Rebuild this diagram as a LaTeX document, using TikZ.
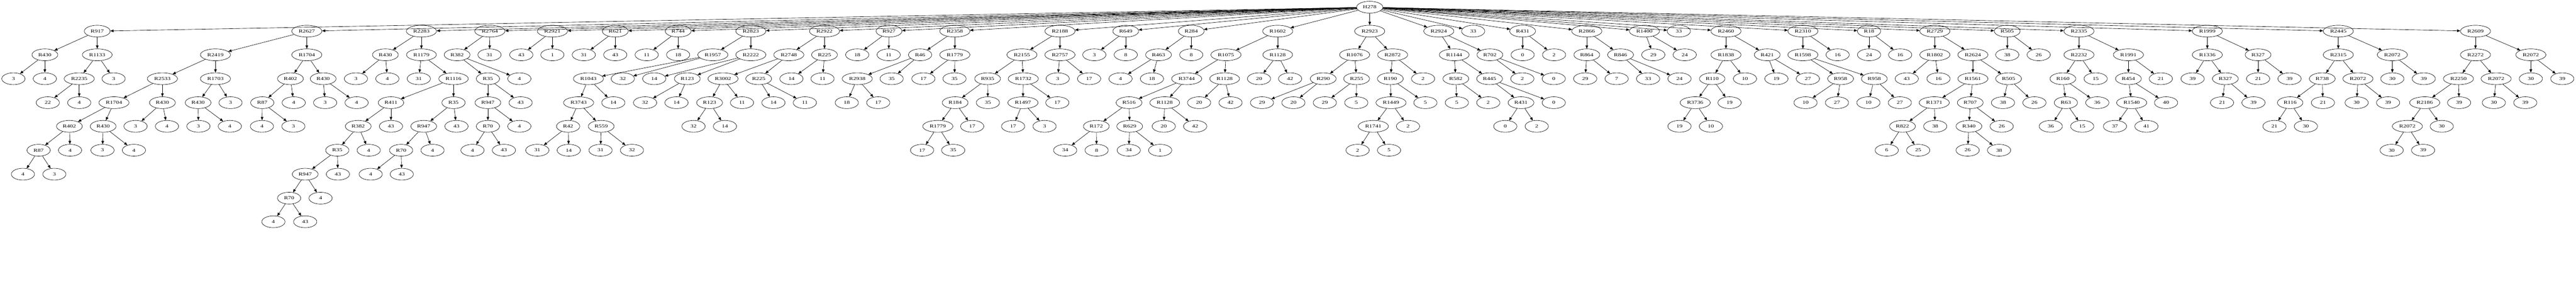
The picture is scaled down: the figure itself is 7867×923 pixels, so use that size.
\documentclass[tikz,border=0pt]{standalone}
\usepackage{fontspec}
\setmainfont{Liberation Serif}[FakeStretch=1.33]
\usepackage{tikz}
\usetikzlibrary{arrows.meta,shapes.geometric}
\tikzset{%
	rnode/.style = {draw, ellipse, line width=1pt, minimum width=71pt, minimum height=36pt, inner xsep=7.7pt, inner ysep=2pt, font=\fontsize{14}{17}\selectfont}, % rule
	leaf/.style  = {rnode}, % value
	arrow/.style = {line width=1pt, -{Triangle[length=10pt,width=8pt]}},
}

\begin{document}
\begin{tikzpicture}[x=1pt, y=-1pt]
	\useasboundingbox (0,0) rectangle (7867,923);
	\node[rnode] (h278) at (4183,22) {H278};

	% R917
	\node[rnode] (a) at (297,95) {R917};
	\node[rnode] (a1) at (137,167) {R430};
	\node[leaf] (a11) at (41,240) {3};
	\node[leaf] (a12) at (137,240) {4};
	\node[rnode] (a2) at (297,167) {R1133};
	\node[rnode] (a21) at (242,240) {R2235};
	\node[leaf] (a211) at (146,313) {22};
	\node[leaf] (a212) at (242,313) {4};
	\node[leaf] (a22) at (347,240) {3};
	\draw[arrow] (a) edge (a1) edge (a2);
	\draw[arrow] (a1) edge (a11) edge (a12);
	\draw[arrow] (a2) edge (a21) edge (a22);
	\draw[arrow] (a21) edge (a211) edge (a212);

	% R2627
	\node[rnode] (b) at (937,95) {R2627};
	\node[rnode] (b1) at (658,167) {R2419};
	\node[rnode] (b11) at (496,240) {R2533};
	\node[rnode] (b111) at (348,313) {R1704};
	\node[rnode] (b1111) at (212,385) {R402};
	\node[rnode] (b11111) at (118,458) {R87};
	\node[leaf] (b111111) at (70,531) {4};
	\node[leaf] (b111112) at (166,531) {3};
	\node[leaf] (b11112) at (214,458) {4};
	\node[rnode] (b1112) at (315,385) {R430};
	\node[leaf] (b11121) at (313,458) {3};
	\node[leaf] (b11122) at (409,458) {4};
	\node[rnode] (b112) at (496,313) {R430};
	\node[leaf] (b1121) at (414,385) {3};
	\node[leaf] (b1122) at (510,385) {4};
	\node[rnode] (b12) at (658,240) {R1703};
	\node[rnode] (b121) at (605,313) {R430};
	\node[leaf] (b1211) at (606,385) {3};
	\node[leaf] (b1212) at (702,385) {4};
	\node[leaf] (b122) at (704,313) {3};
	\node[rnode] (b2) at (937,167) {R1704};
	\node[rnode] (b21) at (887,240) {R402};
	\node[rnode] (b211) at (801,313) {R87};
	\node[leaf] (b2111) at (800,385) {4};
	\node[leaf] (b2112) at (896,385) {3};
	\node[leaf] (b212) at (897,313) {4};
	\node[rnode] (b22) at (987,240) {R430};
	\node[leaf] (b221) at (993,313) {3};
	\node[leaf] (b222) at (1089,313) {4};
	\draw[arrow] (b) edge (b1) edge (b2);
	\draw[arrow] (b1) edge (b11) edge (b12);
	\draw[arrow] (b11) edge (b111) edge (b112);
	\draw[arrow] (b111) edge (b1111) edge (b1112);
	\draw[arrow] (b1111) edge (b11111) edge (b11112);
	\draw[arrow] (b11111) edge (b111111) edge (b111112);
	\draw[arrow] (b1112) edge (b11121) edge (b11122);
	\draw[arrow] (b112) edge (b1121) edge (b1122);
	\draw[arrow] (b12) edge (b121) edge (b122);
	\draw[arrow] (b121) edge (b1211) edge (b1212);
	\draw[arrow] (b2) edge (b21) edge (b22);
	\draw[arrow] (b21) edge (b211) edge (b212);
	\draw[arrow] (b211) edge (b2111) edge (b2112);
	\draw[arrow] (b22) edge (b221) edge (b222);

	% R2283
	\node[rnode] (c) at (1287,95) {R2283};
	\node[rnode] (c1) at (1177,167) {R430};
	\node[leaf] (c11) at (1087,240) {3};
	\node[leaf] (c12) at (1183,240) {4};
	\node[rnode] (c2) at (1287,167) {R1179};
	\node[leaf] (c21) at (1279,240) {31};
	\node[rnode] (c22) at (1385,240) {R1116};
	\node[rnode] (c221) at (1194,313) {R411};
	\node[rnode] (c2211) at (1094,385) {R382};
	\node[rnode] (c22111) at (1030,458) {R35};
	\node[rnode] (c221111) at (932,531) {R947};
	\node[rnode] (c2211111) at (883,604) {R70};
	\node[leaf] (c22111111) at (835,676) {4};
	\node[leaf] (c22111112) at (932,676) {43};
	\node[leaf] (c2211112) at (979,604) {4};
	\node[leaf] (c221112) at (1032,531) {43};
	\node[leaf] (c22112) at (1126,458) {4};
	\node[leaf] (c2212) at (1194,385) {43};
	\node[rnode] (c222) at (1385,313) {R35};
	\node[rnode] (c2221) at (1294,385) {R947};
	\node[rnode] (c22211) at (1225,458) {R70};
	\node[leaf] (c222111) at (1132,531) {4};
	\node[leaf] (c222112) at (1227,531) {43};
	\node[leaf] (c22212) at (1321,458) {4};
	\node[leaf] (c2222) at (1394,385) {43};
	\draw[arrow] (c) edge (c1) edge (c2);
	\draw[arrow] (c1) edge (c11) edge (c12);
	\draw[arrow] (c2) edge (c21) edge (c22);
	\draw[arrow] (c22) edge (c221) edge (c222);
	\draw[arrow] (c221) edge (c2211) edge (c2212);
	\draw[arrow] (c2211) edge (c22111) edge (c22112);
	\draw[arrow] (c22111) edge (c221111) edge (c221112);
	\draw[arrow] (c221111) edge (c2211111) edge (c2211112);
	\draw[arrow] (c2211111) edge (c22111111) edge (c22111112);
	\draw[arrow] (c222) edge (c2221) edge (c2222);
	\draw[arrow] (c2221) edge (c22211) edge (c22212);
	\draw[arrow] (c22211) edge (c222111) edge (c222112);

	% R2764
	\node[rnode] (d) at (1496,95) {R2764};
	\node[rnode] (d1) at (1396,167) {R382};
	\node[rnode] (d11) at (1490,240) {R35};
	\node[rnode] (d111) at (1490,313) {R947};
	\node[rnode] (d1111) at (1490,385) {R70};
	\node[leaf] (d11111) at (1443,458) {4};
	\node[leaf] (d11112) at (1539,458) {43};
	\node[leaf] (d1112) at (1586,385) {4};
	\node[leaf] (d112) at (1590,313) {43};
	\node[leaf] (d12) at (1586,240) {4};
	\node[leaf] (d2) at (1495,167) {31};
	\draw[arrow] (d) edge (d1) edge (d2);
	\draw[arrow] (d1) edge (d11) edge (d12);
	\draw[arrow] (d11) edge (d111) edge (d112);
	\draw[arrow] (d111) edge (d1111) edge (d1112);
	\draw[arrow] (d1111) edge (d11111) edge (d11112);

	% R2921, R621, R744
	\node[rnode] (e) at (1687,95) {R2921};
	\node[leaf] (e1) at (1592,167) {43};
	\node[leaf] (e2) at (1687,167) {1};
	\node[rnode] (f) at (1879,95) {R621};
	\node[leaf] (f1) at (1783,167) {31};
	\node[leaf] (f2) at (1879,167) {43};
	\node[rnode] (g) at (2071,95) {R744};
	\node[leaf] (g1) at (1975,167) {11};
	\node[leaf] (g2) at (2071,167) {18};
	\draw[arrow] (e) edge (e1) edge (e2);
	\draw[arrow] (f) edge (f1) edge (f2);
	\draw[arrow] (g) edge (g1) edge (g2);

	% R2823
	\node[rnode] (h) at (2293,95) {R2823};
	\node[rnode] (h1) at (2177,167) {R1957};
	\node[rnode] (h11) at (1797,240) {R1043};
	\node[rnode] (h111) at (1767,313) {R3743};
	\node[rnode] (h1111) at (1735,385) {R42};
	\node[leaf] (h11111) at (1641,458) {31};
	\node[leaf] (h11112) at (1737,458) {14};
	\node[rnode] (h1112) at (1836,385) {R559};
	\node[leaf] (h11121) at (1834,458) {31};
	\node[leaf] (h11122) at (1930,458) {32};
	\node[leaf] (h112) at (1873,313) {14};
	\node[leaf] (h12) at (1902,240) {32};
	\node[rnode] (h2) at (2293,167) {R2222};
	\node[leaf] (h21) at (1998,240) {14};
	\node[rnode] (h22) at (2099,240) {R123};
	\node[leaf] (h221) at (1970,313) {32};
	\node[leaf] (h222) at (2066,313) {14};
	\draw[arrow] (h) edge (h1) edge (h2);
	\draw[arrow] (h1) edge (h11) edge (h12);
	\draw[arrow] (h11) edge (h111) edge (h112);
	\draw[arrow] (h111) edge (h1111) edge (h1112);
	\draw[arrow] (h1111) edge (h11111) edge (h11112);
	\draw[arrow] (h1112) edge (h11121) edge (h11122);
	\draw[arrow] (h2) edge (h21) edge (h22);
	\draw[arrow] (h22) edge (h221) edge (h222);

	% R2922
	\node[rnode] (i) at (2518,95) {R2922};
	\node[rnode] (i1) at (2409,167) {R2748};
	\node[rnode] (i11) at (2208,240) {R3002};
	\node[rnode] (i111) at (2167,313) {R123};
	\node[leaf] (i1111) at (2118,385) {32};
	\node[leaf] (i1112) at (2214,385) {14};
	\node[leaf] (i112) at (2266,313) {11};
	\node[rnode] (i12) at (2317,240) {R225};
	\node[leaf] (i121) at (2362,313) {14};
	\node[leaf] (i122) at (2458,313) {11};
	\node[rnode] (i2) at (2518,167) {R225};
	\node[leaf] (i21) at (2417,240) {14};
	\node[leaf] (i22) at (2512,240) {11};
	\draw[arrow] (i) edge (i1) edge (i2);
	\draw[arrow] (i1) edge (i11) edge (i12);
	\draw[arrow] (i11) edge (i111) edge (i112);
	\draw[arrow] (i111) edge (i1111) edge (i1112);
	\draw[arrow] (i12) edge (i121) edge (i122);
	\draw[arrow] (i2) edge (i21) edge (i22);

	% R927, R2358
	\node[rnode] (j) at (2715,95) {R927};
	\node[leaf] (j1) at (2618,167) {18};
	\node[leaf] (j2) at (2714,167) {11};
	\draw[arrow] (j) edge (j1) edge (j2);
	\node[rnode] (k) at (2916,95) {R2358};
	\node[rnode] (k1) at (2810,167) {R46};
	\node[rnode] (k11) at (2618,240) {R2938};
	\node[leaf] (k111) at (2586,313) {18};
	\node[leaf] (k112) at (2682,313) {17};
	\node[leaf] (k12) at (2723,240) {35};
	\node[rnode] (k2) at (2916,167) {R1779};
	\node[leaf] (k21) at (2820,240) {17};
	\node[leaf] (k22) at (2915,240) {35};
	\draw[arrow] (k) edge (k1) edge (k2);
	\draw[arrow] (k1) edge (k11) edge (k12);
	\draw[arrow] (k11) edge (k111) edge (k112);
	\draw[arrow] (k2) edge (k21) edge (k22);

	% R2188
	\node[rnode] (l) at (3237,95) {R2188};
	\node[rnode] (l1) at (3121,167) {R2155};
	\node[rnode] (l11) at (3016,240) {R935};
	\node[rnode] (l111) at (2917,313) {R184};
	\node[rnode] (l1111) at (2864,385) {R1779};
	\node[leaf] (l11111) at (2816,458) {17};
	\node[leaf] (l11112) at (2911,458) {35};
	\node[leaf] (l1112) at (2969,385) {17};
	\node[leaf] (l112) at (3017,313) {35};
	\node[rnode] (l12) at (3125,240) {R1732};
	\node[rnode] (l121) at (3124,313) {R1497};
	\node[leaf] (l1211) at (3094,385) {17};
	\node[leaf] (l1212) at (3190,385) {3};
	\node[leaf] (l122) at (3229,313) {17};
	\node[rnode] (l2) at (3237,167) {R2757};
	\node[leaf] (l21) at (3230,240) {3};
	\node[leaf] (l22) at (3326,240) {17};
	\draw[arrow] (l) edge (l1) edge (l2);
	\draw[arrow] (l1) edge (l11) edge (l12);
	\draw[arrow] (l11) edge (l111) edge (l112);
	\draw[arrow] (l111) edge (l1111) edge (l1112);
	\draw[arrow] (l1111) edge (l11111) edge (l11112);
	\draw[arrow] (l12) edge (l121) edge (l122);
	\draw[arrow] (l121) edge (l1211) edge (l1212);
	\draw[arrow] (l2) edge (l21) edge (l22);

	% R649, R284
	\node[rnode] (m) at (3438,95) {R649};
	\node[leaf] (m1) at (3342,167) {3};
	\node[leaf] (m2) at (3438,167) {8};
	\draw[arrow] (m) edge (m1) edge (m2);
	\node[rnode] (n) at (3638,95) {R284};
	\node[rnode] (n1) at (3538,167) {R463};
	\node[leaf] (n11) at (3422,240) {4};
	\node[leaf] (n12) at (3518,240) {18};
	\node[leaf] (n2) at (3638,167) {8};
	\draw[arrow] (n) edge (n1) edge (n2);
	\draw[arrow] (n1) edge (n11) edge (n12);

	% R1602
	\node[rnode] (o) at (3902,95) {R1602};
	\node[rnode] (o1) at (3744,167) {R1075};
	\node[rnode] (o11) at (3624,240) {R3744};
	\node[rnode] (o111) at (3448,313) {R516};
	\node[rnode] (o1111) at (3348,385) {R172};
	\node[leaf] (o11111) at (3253,458) {34};
	\node[leaf] (o11112) at (3349,458) {8};
	\node[rnode] (o1112) at (3450,385) {R629};
	\node[leaf] (o11121) at (3447,458) {34};
	\node[leaf] (o11122) at (3543,458) {1};
	\node[rnode] (o112) at (3557,313) {R1128};
	\node[leaf] (o1121) at (3554,385) {20};
	\node[leaf] (o1122) at (3650,385) {42};
	\node[rnode] (o12) at (3740,240) {R1128};
	\node[leaf] (o121) at (3662,313) {20};
	\node[leaf] (o122) at (3758,313) {42};
	\node[rnode] (o2) at (3902,167) {R1128};
	\node[leaf] (o21) at (3845,240) {20};
	\node[leaf] (o22) at (3940,240) {42};
	\draw[arrow] (o) edge (o1) edge (o2);
	\draw[arrow] (o1) edge (o11) edge (o12);
	\draw[arrow] (o11) edge (o111) edge (o112);
	\draw[arrow] (o111) edge (o1111) edge (o1112);
	\draw[arrow] (o1111) edge (o11111) edge (o11112);
	\draw[arrow] (o1112) edge (o11121) edge (o11122);
	\draw[arrow] (o112) edge (o1121) edge (o1122);
	\draw[arrow] (o12) edge (o121) edge (o122);
	\draw[arrow] (o2) edge (o21) edge (o22);

	% R2923
	\node[rnode] (p) at (4183,95) {R2923};
	\node[rnode] (p1) at (4137,167) {R1076};
	\node[rnode] (p11) at (4041,240) {R290};
	\node[leaf] (p111) at (3854,313) {29};
	\node[leaf] (p112) at (3950,313) {20};
	\node[rnode] (p12) at (4143,240) {R255};
	\node[leaf] (p121) at (4046,313) {29};
	\node[leaf] (p122) at (4142,313) {5};
	\node[rnode] (p2) at (4253,167) {R2872};
	\node[rnode] (p21) at (4246,240) {R190};
	\node[rnode] (p211) at (4248,313) {R1449};
	\node[rnode] (p2111) at (4194,385) {R1741};
	\node[leaf] (p21111) at (4146,458) {2};
	\node[leaf] (p21112) at (4242,458) {5};
	\node[leaf] (p2112) at (4300,385) {2};
	\node[leaf] (p212) at (4353,313) {5};
	\node[leaf] (p22) at (4346,240) {2};
	\draw[arrow] (p) edge (p1) edge (p2);
	\draw[arrow] (p1) edge (p11) edge (p12);
	\draw[arrow] (p11) edge (p111) edge (p112);
	\draw[arrow] (p12) edge (p121) edge (p122);
	\draw[arrow] (p2) edge (p21) edge (p22);
	\draw[arrow] (p21) edge (p211) edge (p212);
	\draw[arrow] (p211) edge (p2111) edge (p2112);
	\draw[arrow] (p2111) edge (p21111) edge (p21112);

	% R2924
	\node[rnode] (q) at (4394,95) {R2924};
	\node[rnode] (q1) at (4441,167) {R1144};
	\node[rnode] (q11) at (4446,240) {R582};
	\node[leaf] (q111) at (4449,313) {5};
	\node[leaf] (q112) at (4545,313) {2};
	\node[rnode] (q12) at (4549,240) {R445};
	\node[rnode] (q121) at (4645,313) {R431};
	\node[leaf] (q1211) at (4597,385) {0};
	\node[leaf] (q1212) at (4693,385) {2};
	\node[leaf] (q122) at (4745,313) {0};
	\node[rnode] (q2) at (4550,167) {R702};
	\node[leaf] (q21) at (4649,240) {2};
	\node[leaf] (q22) at (4745,240) {0};
	\draw[arrow] (q) edge (q1) edge (q2);
	\draw[arrow] (q1) edge (q11) edge (q12);
	\draw[arrow] (q11) edge (q111) edge (q112);
	\draw[arrow] (q12) edge (q121) edge (q122);
	\draw[arrow] (q121) edge (q1211) edge (q1212);
	\draw[arrow] (q2) edge (q21) edge (q22);

	% 33, R431, R2866, R1400, 33
	\node[leaf] (s1) at (4499,95) {33};
	\node[rnode] (t) at (4650,95) {R431};
	\node[leaf] (t1) at (4650,167) {0};
	\node[leaf] (t2) at (4746,167) {2};
	\draw[arrow] (t) edge (t1) edge (t2);
	\node[rnode] (u) at (4846,95) {R2866};
	\node[rnode] (u1) at (4846,167) {R864};
	\node[leaf] (u11) at (4841,240) {29};
	\node[leaf] (u12) at (4937,240) {7};
	\node[rnode] (u2) at (4949,167) {R846};
	\node[leaf] (u21) at (5033,240) {33};
	\node[leaf] (u22) at (5129,240) {24};
	\draw[arrow] (u) edge (u1) edge (u2);
	\draw[arrow] (u1) edge (u11) edge (u12);
	\draw[arrow] (u2) edge (u21) edge (u22);
	\node[rnode] (v) at (5022,95) {R1400};
	\node[leaf] (v1) at (5049,167) {29};
	\node[leaf] (v2) at (5145,167) {24};
	\draw[arrow] (v) edge (v1) edge (v2);
	\node[leaf] (s2) at (5127,95) {33};

	% R2460
	\node[rnode] (w) at (5271,95) {R2460};
	\node[rnode] (w1) at (5271,167) {R1838};
	\node[rnode] (w11) at (5229,240) {R110};
	\node[rnode] (w111) at (5177,313) {R3736};
	\node[leaf] (w1111) at (5129,385) {19};
	\node[leaf] (w1112) at (5225,385) {10};
	\node[leaf] (w112) at (5282,313) {19};
	\node[leaf] (w12) at (5329,240) {10};
	\node[rnode] (w2) at (5397,167) {R421};
	\node[leaf] (w21) at (5425,240) {19};
	\node[leaf] (w22) at (5521,240) {27};
	\draw[arrow] (w) edge (w1) edge (w2);
	\draw[arrow] (w1) edge (w11) edge (w12);
	\draw[arrow] (w11) edge (w111) edge (w112);
	\draw[arrow] (w111) edge (w1111) edge (w1112);
	\draw[arrow] (w2) edge (w21) edge (w22);

	% R2310, R18
	\node[rnode] (x) at (5506,95) {R2310};
	\node[rnode] (x1) at (5506,167) {R1598};
	\node[rnode] (x11) at (5621,240) {R958};
	\node[leaf] (x111) at (5514,313) {10};
	\node[leaf] (x112) at (5610,313) {27};
	\node[rnode] (x12) at (5724,240) {R958};
	\node[leaf] (x121) at (5706,313) {10};
	\node[leaf] (x122) at (5802,313) {27};
	\node[leaf] (x2) at (5612,167) {16};
	\draw[arrow] (x) edge (x1) edge (x2);
	\draw[arrow] (x1) edge (x11) edge (x12);
	\draw[arrow] (x11) edge (x111) edge (x112);
	\draw[arrow] (x12) edge (x121) edge (x122);
	\node[rnode] (y) at (5708,95) {R18};
	\node[leaf] (y1) at (5708,167) {24};
	\node[leaf] (y2) at (5803,167) {16};
	\draw[arrow] (y) edge (y1) edge (y2);

	% R2729
	\node[rnode] (z) at (5909,95) {R2729};
	\node[rnode] (z1) at (5909,167) {R1802};
	\node[leaf] (z11) at (5823,240) {43};
	\node[leaf] (z12) at (5920,240) {16};
	\node[rnode] (z2) at (6025,167) {R2624};
	\node[rnode] (z21) at (6025,240) {R1561};
	\node[rnode] (z211) at (5907,313) {R1371};
	\node[rnode] (z2111) at (5810,385) {R822};
	\node[leaf] (z21111) at (5762,458) {6};
	\node[leaf] (z21112) at (5858,458) {25};
	\node[leaf] (z2112) at (5910,385) {38};
	\node[rnode] (z212) at (6017,313) {R707};
	\node[rnode] (z2121) at (6013,385) {R340};
	\node[leaf] (z21211) at (6009,458) {26};
	\node[leaf] (z21212) at (6105,458) {38};
	\node[leaf] (z2122) at (6113,385) {26};
	\node[rnode] (z22) at (6134,240) {R505};
	\node[leaf] (z221) at (6117,313) {38};
	\node[leaf] (z222) at (6213,313) {26};
	\draw[arrow] (z) edge (z1) edge (z2);
	\draw[arrow] (z1) edge (z11) edge (z12);
	\draw[arrow] (z2) edge (z21) edge (z22);
	\draw[arrow] (z21) edge (z211) edge (z212);
	\draw[arrow] (z211) edge (z2111) edge (z2112);
	\draw[arrow] (z2111) edge (z21111) edge (z21112);
	\draw[arrow] (z212) edge (z2121) edge (z2122);
	\draw[arrow] (z2121) edge (z21211) edge (z21212);
	\draw[arrow] (z22) edge (z221) edge (z222);

	% R505, R2335
	\node[rnode] (aa) at (6130,95) {R505};
	\node[leaf] (aa1) at (6130,167) {38};
	\node[leaf] (aa2) at (6226,167) {26};
	\draw[arrow] (aa) edge (aa1) edge (aa2);
	\node[rnode] (ab) at (6349,95) {R2335};
	\node[rnode] (ab1) at (6349,167) {R2232};
	\node[rnode] (ab11) at (6300,240) {R160};
	\node[rnode] (ab111) at (6309,313) {R63};
	\node[leaf] (ab1111) at (6263,385) {36};
	\node[leaf] (ab1112) at (6359,385) {15};
	\node[leaf] (ab112) at (6405,313) {36};
	\node[leaf] (ab12) at (6400,240) {15};
	\node[rnode] (ab2) at (6500,167) {R1991};
	\node[rnode] (ab21) at (6500,240) {R454};
	\node[rnode] (ab211) at (6510,313) {R1540};
	\node[leaf] (ab2111) at (6459,385) {37};
	\node[leaf] (ab2112) at (6555,385) {41};
	\node[leaf] (ab212) at (6615,313) {40};
	\node[leaf] (ab22) at (6599,240) {21};
	\draw[arrow] (ab) edge (ab1) edge (ab2);
	\draw[arrow] (ab1) edge (ab11) edge (ab12);
	\draw[arrow] (ab11) edge (ab111) edge (ab112);
	\draw[arrow] (ab111) edge (ab1111) edge (ab1112);
	\draw[arrow] (ab2) edge (ab21) edge (ab22);
	\draw[arrow] (ab21) edge (ab211) edge (ab212);
	\draw[arrow] (ab211) edge (ab2111) edge (ab2112);

	% R1999
	\node[rnode] (ac) at (6741,95) {R1999};
	\node[rnode] (ac1) at (6741,167) {R1336};
	\node[leaf] (ac11) at (6696,240) {39};
	\node[rnode] (ac12) at (6796,240) {R327};
	\node[leaf] (ac121) at (6786,313) {21};
	\node[leaf] (ac122) at (6882,313) {39};
	\node[rnode] (ac2) at (6896,167) {R327};
	\node[leaf] (ac21) at (6896,240) {21};
	\node[leaf] (ac22) at (6992,240) {39};
	\draw[arrow] (ac) edge (ac1) edge (ac2);
	\draw[arrow] (ac1) edge (ac11) edge (ac12);
	\draw[arrow] (ac12) edge (ac121) edge (ac122);
	\draw[arrow] (ac2) edge (ac21) edge (ac22);

	% R2445
	\node[rnode] (ad) at (7141,95) {R2445};
	\node[rnode] (ad1) at (7141,167) {R2315};
	\node[rnode] (ad11) at (7092,240) {R738};
	\node[rnode] (ad111) at (6994,313) {R116};
	\node[leaf] (ad1111) at (6946,385) {21};
	\node[leaf] (ad1112) at (7042,385) {30};
	\node[leaf] (ad112) at (7094,313) {21};
	\node[rnode] (ad12) at (7201,240) {R2072};
	\node[leaf] (ad121) at (7197,313) {30};
	\node[leaf] (ad122) at (7293,313) {39};
	\node[rnode] (ad2) at (7306,167) {R2072};
	\node[leaf] (ad21) at (7306,240) {30};
	\node[leaf] (ad22) at (7402,240) {39};
	\draw[arrow] (ad) edge (ad1) edge (ad2);
	\draw[arrow] (ad1) edge (ad11) edge (ad12);
	\draw[arrow] (ad11) edge (ad111) edge (ad112);
	\draw[arrow] (ad111) edge (ad1111) edge (ad1112);
	\draw[arrow] (ad12) edge (ad121) edge (ad122);
	\draw[arrow] (ad2) edge (ad21) edge (ad22);

	% R2609
	\node[rnode] (ae) at (7560,95) {R2609};
	\node[rnode] (ae1) at (7560,167) {R2272};
	\node[rnode] (ae11) at (7508,240) {R2250};
	\node[rnode] (ae111) at (7405,313) {R2186};
	\node[rnode] (ae1111) at (7352,385) {R2072};
	\node[leaf] (ae11111) at (7304,458) {30};
	\node[leaf] (ae11112) at (7400,458) {39};
	\node[leaf] (ae1112) at (7457,385) {30};
	\node[leaf] (ae112) at (7510,313) {39};
	\node[rnode] (ae12) at (7623,240) {R2072};
	\node[leaf] (ae121) at (7616,313) {30};
	\node[leaf] (ae122) at (7712,313) {39};
	\node[rnode] (ae2) at (7729,167) {R2072};
	\node[leaf] (ae21) at (7729,240) {30};
	\node[leaf] (ae22) at (7825,240) {39};
	\draw[arrow] (ae) edge (ae1) edge (ae2);
	\draw[arrow] (ae1) edge (ae11) edge (ae12);
	\draw[arrow] (ae11) edge (ae111) edge (ae112);
	\draw[arrow] (ae111) edge (ae1111) edge (ae1112);
	\draw[arrow] (ae1111) edge (ae11111) edge (ae11112);
	\draw[arrow] (ae12) edge (ae121) edge (ae122);
	\draw[arrow] (ae2) edge (ae21) edge (ae22);

	% root
	\draw[arrow] (h278) edge (a) edge (b) edge (c) edge (d) edge (e) edge (f) edge (g) edge (h)
		edge (i) edge (j) edge (k) edge (l) edge (m) edge (n) edge (o) edge (p) edge (q) edge (s1)
		edge (t) edge (u) edge (v) edge (s2) edge (w) edge (x) edge (y) edge (z) edge (aa) edge (ab)
		edge (ac) edge (ad) edge (ae);
\end{tikzpicture}
\end{document}
